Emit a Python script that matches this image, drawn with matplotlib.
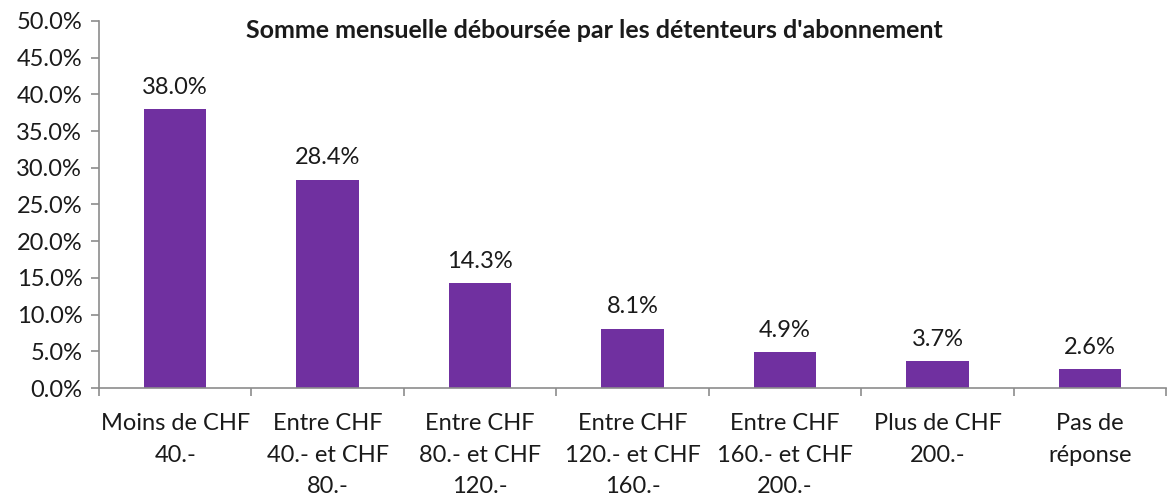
import matplotlib
matplotlib.use("Agg")
import matplotlib.pyplot as plt
import numpy as np
from matplotlib.ticker import MultipleLocator, FuncFormatter

categories = [
    "Moins de CHF\n40.-",
    "Entre CHF\n40.- et CHF\n80.-",
    "Entre CHF\n80.- et CHF\n120.-",
    "Entre CHF\n120.- et CHF\n160.-",
    "Entre CHF\n160.- et CHF\n200.-",
    "Plus de CHF\n200.-",
    "Pas de\nréponse",
]
values = [38.0, 28.4, 14.3, 8.1, 4.9, 3.7, 2.6]
title = "Somme mensuelle déboursée par les détenteurs d'abonnement"

plt.rcParams['font.family'] = ['Lato', 'DejaVu Sans']
fs = 17
bar_color = '#7030A0'
axis_color = '#8c8c8c'

fig = plt.figure(figsize=(11.71, 4.99), dpi=100)
ax = fig.add_axes([0.0845, 0.2224, 0.9115, 0.7356])

x = np.arange(len(values))
ax.bar(x, values, width=0.41, color=bar_color, zorder=2)
for xi, v in zip(x, values):
    ax.annotate(f"{v:.1f}%", (xi, v), xytext=(0, 8), textcoords='offset points',
                ha='center', va='bottom', fontsize=fs, color='#1a1a1a')

ax.set_xlim(-0.5, len(values) - 0.5)
ax.set_ylim(0, 50)
ax.yaxis.set_major_locator(MultipleLocator(5))
ax.yaxis.set_major_formatter(FuncFormatter(lambda v, p: f"{v:.1f}%"))

# category boundaries get the tick marks, labels sit in the middle
ax.set_xticks(np.arange(len(values) + 1) - 0.5)
ax.set_xticklabels([])
ax.set_xticks(x, minor=True)
ax.set_xticklabels(categories, minor=True, fontsize=fs, linespacing=1.62,
                   va='top', color='#1a1a1a')
ax.tick_params(axis='x', which='minor', length=0, pad=18)
ax.tick_params(axis='x', which='major', length=6, color=axis_color, width=1.2)
ax.tick_params(axis='y', length=6, color=axis_color, width=1.2, labelsize=fs,
               labelcolor='#1a1a1a', pad=6)

for s in ['top', 'right']:
    ax.spines[s].set_visible(False)
for s in ['left', 'bottom']:
    ax.spines[s].set_color(axis_color)
    ax.spines[s].set_linewidth(1.2)

fig.text(594 / 1171, 1 - 30 / 499, title, ha='center', va='center',
         fontsize=18, fontweight='bold', color='#1a1a1a')

fig.savefig('out.png', dpi=100)
